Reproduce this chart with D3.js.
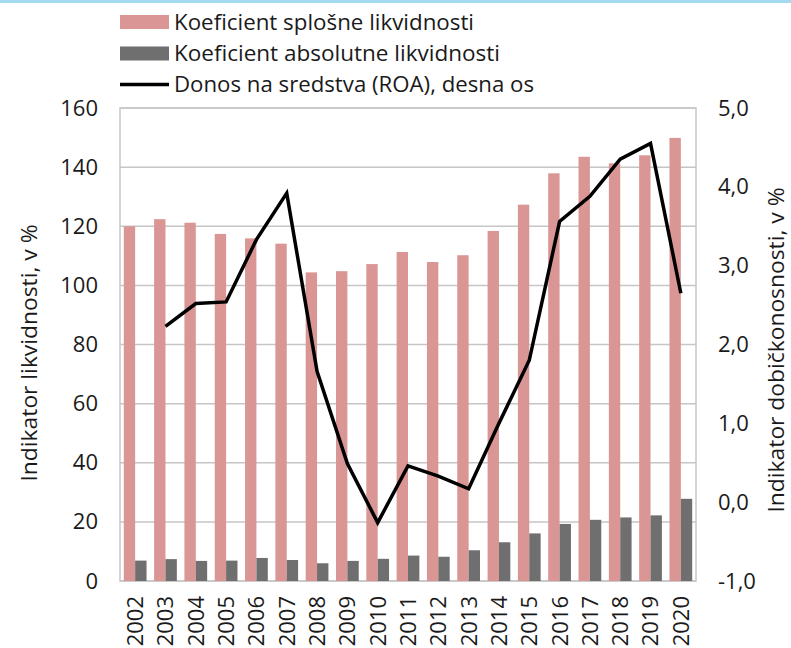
<!DOCTYPE html>
<html><head><meta charset="utf-8">
<script src="https://cdn.jsdelivr.net/npm/d3@7"></script>
<style>
html,body{margin:0;padding:0;background:#fff;}
svg{display:block;font-family:"Open Sans","Noto Sans",sans-serif;}
</style></head>
<body>
<svg id="c" width="791" height="648"></svg>
<script>
const years = ["2002","2003","2004","2005","2006","2007","2008","2009","2010","2011","2012","2013","2014","2015","2016","2017","2018","2019","2020"];
const generalLiquidity = [120.0,122.4,121.2,117.4,115.9,114.1,104.4,104.8,107.2,111.3,107.9,110.2,118.4,127.3,137.9,143.5,141.3,144.0,149.9];
const absoluteLiquidity = [6.9,7.4,6.8,6.9,7.8,7.1,6.0,6.8,7.5,8.6,8.2,10.4,13.1,16.1,19.3,20.7,21.5,22.2,27.8];
const roa = [null,2.23,2.52,2.54,3.33,3.92,1.66,0.49,-0.26,0.46,0.33,0.17,1.00,1.80,3.56,3.88,4.35,4.55,2.65];
const leftTicks = [0,20,40,60,80,100,120,140,160];
const rightTicks = [-1,0,1,2,3,4,5];
const legendLabels = ["Koeficient splošne likvidnosti","Koeficient absolutne likvidnosti","Donos na sredstva (ROA), desna os"];
const leftTitle = "Indikator likvidnosti, v %";
const rightTitle = "Indikator dobičkonosnosti, v %";

const colPink = "#d99694", colGray = "#6f6f6f", gridCol = "#c6c6c6";
const L = 120, R = 696, T = 108, B = 581;
const svg = d3.select("#c");

svg.append("rect").attr("x",0).attr("y",0).attr("width",791).attr("height",3).attr("fill","#a4daef");

const x0 = d3.scaleBand().domain(years).range([L,R]).paddingInner(0.25).paddingOuter(0.125);
const x1 = d3.scaleBand().domain(["g","a"]).range([0,x0.bandwidth()]);
const yL = d3.scaleLinear().domain([0,160]).range([B,T]);
const yR = d3.scaleLinear().domain([-1,5]).range([B,T]);

// grid
svg.append("g").selectAll("line").data(leftTicks).join("line")
  .attr("x1",L).attr("x2",R).attr("y1",d=>yL(d)).attr("y2",d=>yL(d))
  .attr("stroke",gridCol).attr("stroke-width",1.5);
svg.append("rect").attr("x",L).attr("y",T).attr("width",R-L).attr("height",B-T)
  .attr("fill","none").attr("stroke",gridCol).attr("stroke-width",1.5);

// bars
const g = svg.append("g");
g.selectAll("rect.g").data(years).join("rect").attr("class","g")
  .attr("x",d=>x0(d)+x1("g")).attr("width",x1.bandwidth())
  .attr("y",(d,i)=>yL(generalLiquidity[i])).attr("height",(d,i)=>yL(0)-yL(generalLiquidity[i]))
  .attr("fill",colPink);
g.selectAll("rect.a").data(years).join("rect").attr("class","a")
  .attr("x",d=>x0(d)+x1("a")).attr("width",x1.bandwidth())
  .attr("y",(d,i)=>yL(absoluteLiquidity[i])).attr("height",(d,i)=>yL(0)-yL(absoluteLiquidity[i]))
  .attr("fill",colGray);

// line
const line = d3.line().defined(d=>d.v!==null)
  .x(d=>x0(d.y)+x0.bandwidth()/2).y(d=>yR(d.v));
svg.append("path").datum(years.map((y,i)=>({y,v:roa[i]})))
  .attr("d",line).attr("fill","none").attr("stroke","#000").attr("stroke-width",3.5)
  .attr("stroke-linejoin","miter");

// axes
const fs = 22;
const axL = svg.append("g").attr("transform",`translate(${L},0)`)
  .call(d3.axisLeft(yL).tickValues(leftTicks).tickSize(0).tickPadding(22).tickFormat(d=>String(d)));
const axR = svg.append("g").attr("transform",`translate(${R},0)`)
  .call(d3.axisRight(yR).tickValues(rightTicks).tickSize(0).tickPadding(22)
    .tickFormat(d=>(d<0?"-":"")+Math.abs(d).toFixed(1).replace(".",",")));
const axB = svg.append("g").attr("transform",`translate(0,${B})`)
  .call(d3.axisBottom(x0).tickSize(0).tickPadding(0));
[axL,axR,axB].forEach(a=>{a.select(".domain").remove();
  a.selectAll("text").attr("font-size",fs).attr("fill","#1a1a1a").attr("font-family","Open Sans");});
axB.selectAll("text").attr("transform","rotate(-90)").attr("text-anchor","end")
  .attr("x",-15).attr("y",0).attr("dy","0.36em");

// titles
svg.append("text").attr("transform","translate(37,353) rotate(-90)").attr("text-anchor","middle")
  .attr("font-size",fs).attr("fill","#1a1a1a").attr("textLength",257).attr("lengthAdjust","spacingAndGlyphs")
  .text(leftTitle);
svg.append("text").attr("transform","translate(784,350) rotate(-90)").attr("text-anchor","middle")
  .attr("font-size",fs).attr("fill","#1a1a1a").attr("textLength",325).attr("lengthAdjust","spacingAndGlyphs")
  .text(rightTitle);

// legend
const lgY = [22,53.5,84.5], lgLen=[300,326,360];
const lg = svg.append("g");
lg.append("rect").attr("x",120).attr("y",lgY[0]-7).attr("width",49).attr("height",14).attr("fill",colPink);
lg.append("rect").attr("x",120).attr("y",lgY[1]-7).attr("width",49).attr("height",14).attr("fill",colGray);
lg.append("line").attr("x1",120).attr("x2",169).attr("y1",lgY[2]).attr("y2",lgY[2]).attr("stroke","#000").attr("stroke-width",3.5);
lg.selectAll("text").data(legendLabels).join("text")
  .attr("x",174).attr("y",(d,i)=>lgY[i]).attr("dy","0.36em")
  .attr("font-size",fs).attr("fill","#1a1a1a")
  .attr("textLength",(d,i)=>lgLen[i]).attr("lengthAdjust","spacingAndGlyphs")
  .text(d=>d);
</script>
</body></html>
